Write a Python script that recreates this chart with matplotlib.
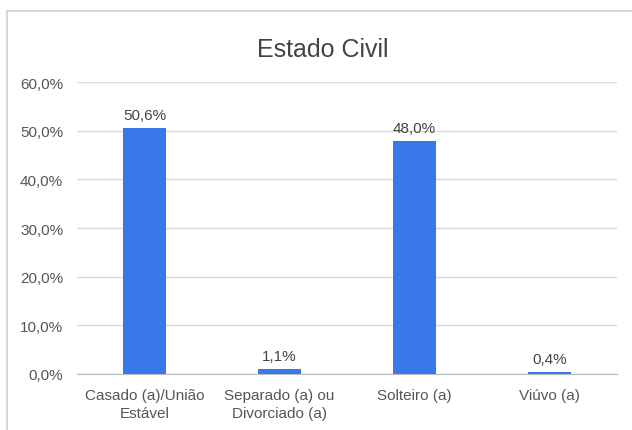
import matplotlib.pyplot as plt
from matplotlib.patches import Rectangle

plt.rcParams['font.family'] = ['Liberation Sans', 'DejaVu Sans']

categories = ['Casado (a)/União\nEstável', 'Separado (a) ou\nDivorciado (a)', 'Solteiro (a)', 'Viúvo (a)']
values = [50.6, 1.1, 48.0, 0.4]
labels = ['50,6%', '1,1%', '48,0%', '0,4%']
yticks = [0, 10, 20, 30, 40, 50, 60]
ytick_labels = ['0,0%', '10,0%', '20,0%', '30,0%', '40,0%', '50,0%', '60,0%']

fig = plt.figure(figsize=(6.32, 4.31), dpi=100)
ax = fig.add_axes([0.122, 0.130, 0.854, 0.677])

# chart border
fig.patches.append(Rectangle((0.011, -0.01), 1.0, 0.982, transform=fig.transFigure,
                             fill=False, edgecolor='#d0d0d0', linewidth=1.2))

x = range(len(categories))
ax.bar(x, values, width=0.32, color='#3878e8', zorder=3)
for i, v in enumerate(values):
    ax.annotate(labels[i], (i, v), xytext=(0, 4), textcoords='offset points',
                ha='center', va='bottom', fontsize=11, color='#444444')

ax.set_xlim(-0.5, 3.5)
ax.set_ylim(0, 60)
ax.set_yticks(yticks)
ax.set_yticklabels(ytick_labels, fontsize=11, color='#555555')
ax.set_xticks(list(x))
ax.set_xticklabels(categories, fontsize=11, color='#555555', linespacing=1.35)
ax.tick_params(length=0, pad=10)
ax.tick_params(axis='x', pad=10)
ax.grid(axis='y', color='#d9d9d9', linewidth=1, zorder=0)
for s in ['top', 'right', 'left']:
    ax.spines[s].set_visible(False)
ax.spines['bottom'].set_color('#bbbbbb')

fig.text(323 / 632, 1 - 50 / 431, 'Estado Civil', ha='center', va='center',
         fontsize=18, color='#444444')

fig.savefig('out.png', dpi=100)
